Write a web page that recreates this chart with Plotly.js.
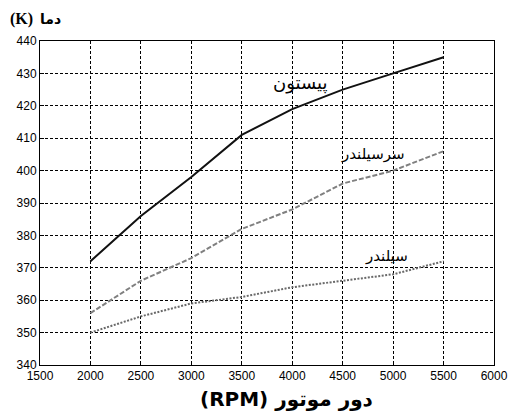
<!DOCTYPE html>
<html>
<head>
<meta charset="utf-8">
<script src="https://cdn.plot.ly/plotly-3.0.1.min.js"></script>
<style>
  html, body { margin: 0; padding: 0; background: #fff; }
  #chart { width: 508px; height: 411px; }
</style>
</head>
<body>
<div id="chart"></div>
<script>
// Engine speed (RPM)
const rpm = [2000, 2500, 3000, 3500, 4000, 4500, 5000, 5500];

// Temperatures (K)
const pistonTemp = [372, 386, 398, 411, 419, 425, 430, 435];
const cylinderHeadTemp = [356, 366, 373, 382, 388, 396, 400, 406];
const cylinderTemp = [350, 355, 359, 361, 364, 366, 368, 372];

// Curve labels
const pistonLabel = 'پیستون';
const cylinderHeadLabel = 'سرسیلندر';
const cylinderLabel = 'سیلندر';

const xTitle = '(RPM) دور موتور';
const yTitleUnit = '(K)';
const yTitleWord = 'دما';

const traces = [
  { x: rpm, y: pistonTemp, mode: 'lines', line: { color: '#111', width: 2 }, name: pistonLabel },
  { x: rpm, y: cylinderHeadTemp, mode: 'lines', line: { color: '#808080', width: 2, dash: '5px,2px' }, name: cylinderHeadLabel },
  { x: rpm, y: cylinderTemp, mode: 'lines', line: { color: '#6a6a6a', width: 2, dash: '2px,1.5px' }, name: cylinderLabel }
];

const persianFont = { family: 'DejaVu Sans, Noto Sans', color: '#000' };

const layout = {
  width: 508,
  height: 411,
  margin: { l: 40, r: 14, t: 41, b: 46 },
  paper_bgcolor: '#fff',
  plot_bgcolor: '#fff',
  showlegend: false,
  font: { family: 'Liberation Sans, Arial, sans-serif', size: 12, color: '#000' },
  xaxis: {
    range: [1500, 6000],
    tick0: 1500,
    dtick: 500,
    showgrid: true,
    gridcolor: '#000',
    griddash: '3px,2px',
    gridwidth: 1,
    zeroline: false,
    showline: true,
    linecolor: '#000',
    linewidth: 1,
    mirror: true,
    ticks: 'inside',
    ticklen: 4,
    tickcolor: '#000',
    tickfont: { size: 12, color: '#000' }
  },
  yaxis: {
    range: [340, 440],
    tick0: 340,
    dtick: 10,
    showgrid: true,
    gridcolor: '#000',
    griddash: '3px,2px',
    gridwidth: 1,
    zeroline: false,
    showline: true,
    linecolor: '#000',
    linewidth: 1,
    mirror: true,
    ticks: 'inside',
    ticklen: 4,
    tickcolor: '#000',
    tickfont: { size: 12, color: '#000' }
  },
  annotations: [
    // x-axis title, set a little right of centre
    {
      text: xTitle, xref: 'paper', yref: 'paper', x: 0.544, y: -0.105,
      xanchor: 'center', yanchor: 'middle', showarrow: false,
      font: { family: 'DejaVu Sans, Liberation Sans', size: 20, color: '#000', weight: 'bold' }
    },
    // y-axis title above the axis
    {
      text: yTitleUnit, xref: 'paper', yref: 'paper', x: -0.071, y: 1.067,
      xanchor: 'left', yanchor: 'middle', showarrow: false,
      font: { family: 'Liberation Serif, DejaVu Serif', size: 16, color: '#000', weight: 'bold' }
    },
    {
      text: yTitleWord, xref: 'paper', yref: 'paper', x: -0.004, y: 1.067,
      xanchor: 'left', yanchor: 'middle', showarrow: false,
      font: { family: 'DejaVu Sans', size: 14, color: '#000', weight: 'bold' }
    },
    {
      text: pistonLabel, x: 4080, y: 427, xref: 'x', yref: 'y',
      showarrow: false, font: Object.assign({ size: 18 }, persianFont)
    },
    {
      text: cylinderHeadLabel, x: 4800, y: 405, xref: 'x', yref: 'y',
      showarrow: false, font: Object.assign({ size: 15 }, persianFont)
    },
    {
      text: cylinderLabel, x: 4930, y: 373.5, xref: 'x', yref: 'y',
      showarrow: false, font: Object.assign({ size: 15 }, persianFont)
    }
  ]
};

Plotly.newPlot('chart', traces, layout, { displayModeBar: false, staticPlot: true });
</script>
</body>
</html>
